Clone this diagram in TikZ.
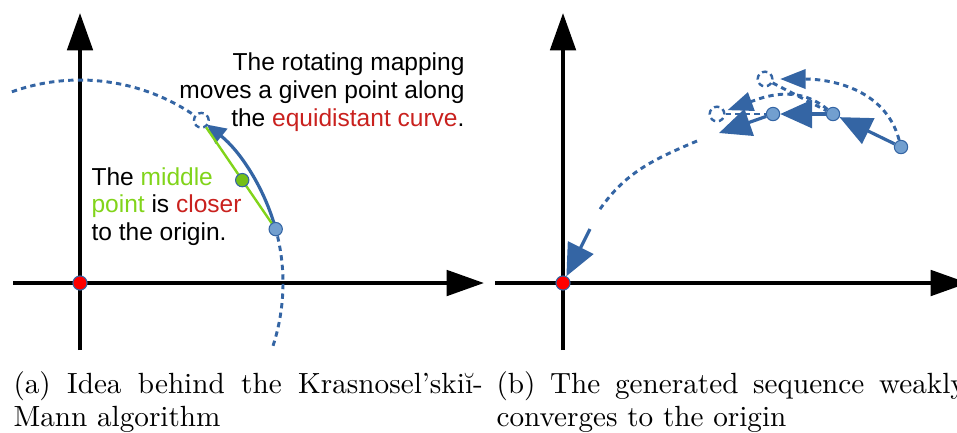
\documentclass[tikz,border=0pt]{standalone}
\usepackage{fontspec}
\newfontfamily\lsans{Liberation Sans}
\usetikzlibrary{arrows.meta,calc}
\definecolor{kmblue}{RGB}{52,101,164}
\definecolor{kmlight}{RGB}{114,159,207}
\definecolor{kmgreen}{RGB}{129,212,26}
\definecolor{kmred}{RGB}{201,33,30}
\tikzset{
  kaxis/.style={line width=1.5pt, -{Triangle[length=14pt, width=9.5pt]}},
  kpoint/.style={circle, draw=kmblue, fill=kmlight, line width=0.4pt,
                 minimum size=5pt, inner sep=0pt},
  kmid/.style={circle, draw=kmblue, fill=kmgreen!90!black, line width=0.4pt,
               minimum size=5pt, inner sep=0pt},
  korigin/.style={circle, draw=kmblue, fill=red, line width=0.4pt,
                  minimum size=5.3pt, inner sep=0pt},
  kghost/.style={circle, draw=kmblue, line width=0.9pt, dash pattern=on 2pt off 1.4pt,
                 minimum size=5.5pt, inner sep=0pt},
  kdash/.style={kmblue, line width=1.1pt, dash pattern=on 2pt off 1.6pt},
  kturn/.style={kdash, -{Triangle[length=9.5pt, width=7.2pt]}},
  kstep/.style={kmblue, line width=1.2pt, -{Triangle[length=12pt, width=10.5pt]}},
  ktext/.style={font=\lsans\fontsize{9.2}{10.4}\selectfont, inner sep=0pt},
  kcap/.style={text width=176pt, align=justify, inner sep=0pt, anchor=base west,
               font=\fontsize{10.95}{12.4}\selectfont},
}
\begin{document}
\begin{tikzpicture}[x=37.5pt, y=37.5pt]
\useasboundingbox (0,0) rectangle (9.57,4.32);

% Left: one step of the rotating mapping
\draw[kaxis] (0.13,1.49) -- (4.84,1.49);
\draw[kaxis] (0.80,0.82) -- (0.80,4.19);
\coordinate (o1) at (0.80,1.49);
\coordinate (x0) at ($(o1)+(15.4:2.03)$);
\node[kghost] (t0) at ($(o1)+(53.3:2.03)$) {};

\draw[kdash] ($(o1)+(109.6:2.03)$) arc[start angle=109.6, end angle=55.5, radius=2.03];
\draw[kdash] ($(o1)+(13.3:2.03)$) arc[start angle=13.3, end angle=-19.2, radius=2.03];
\draw[kmblue, line width=1.2pt, -{Triangle[length=7pt, width=7pt]}] (x0) arc[start angle=15.4, end angle=51.3, radius=2.03];
\draw[kmgreen, line width=0.9pt] (x0) -- (t0);
\node[kpoint] (p0) at (x0) {};
\node[kmid] (m0) at ($(x0)!0.45!(t0.center)$) {};
\node[korigin] (z1) at (o1) {};

\node[ktext, align=right, anchor=base east] (rot) at (4.65,3.06) {The rotating mapping\\moves a given point along\\the \textcolor{kmred}{equidistant curve}.};
\node[ktext, align=left, anchor=base west] (mid) at (0.91,1.913) {The \textcolor{kmgreen}{middle}\\\textcolor{kmgreen}{point} is \textcolor{kmred}{closer}\\to the origin.};

% Right: the sequence of averaged steps
\draw[kaxis] (4.95,1.49) -- (9.68,1.49);
\draw[kaxis] (5.63,0.82) -- (5.63,4.19);
\node[korigin] (z2) at (5.63,1.49) {};
\node[kpoint] (q0) at (9.01,2.85) {};
\node[kpoint] (q1) at (8.33,3.18) {};
\node[kpoint] (q2) at (7.73,3.18) {};
\node[kghost] (r1) at (7.65,3.53) {};
\node[kghost] (r2) at (7.17,3.18) {};
\coordinate (q3) at (7.19,2.99);
\coordinate (d1) at (6.97,2.91);
\coordinate (d2) at (5.98,2.20);
\coordinate (d3) at (5.90,2.03);

\draw[kturn, shorten >=2.5pt] (q0) to[out=105, in=0] (r1);
\draw[kdash] (r1) -- (q1);
\draw[kturn, shorten >=1pt] (q1) to[out=140, in=20] (r2);
\draw[kdash] (r2) -- (q2);
\draw[kstep] (q0) -- (q1);
\draw[kstep] (q1) -- (q2);
\draw[kstep] (q2) -- (q3);
\draw[kdash] (d1) to[out=203, in=56] (d2);
\draw[kstep] (d3) -- (z2);

% Captions
\node[kcap] (capa) at (0.13,0.39) {(a) Idea behind the Krasnosel'ski\u{\i}-\linebreak Mann algorithm};
\node[kcap] (capb) at (4.96,0.39) {(b) The generated sequence weakly\linebreak converges to the origin};
\end{tikzpicture}
\end{document}
